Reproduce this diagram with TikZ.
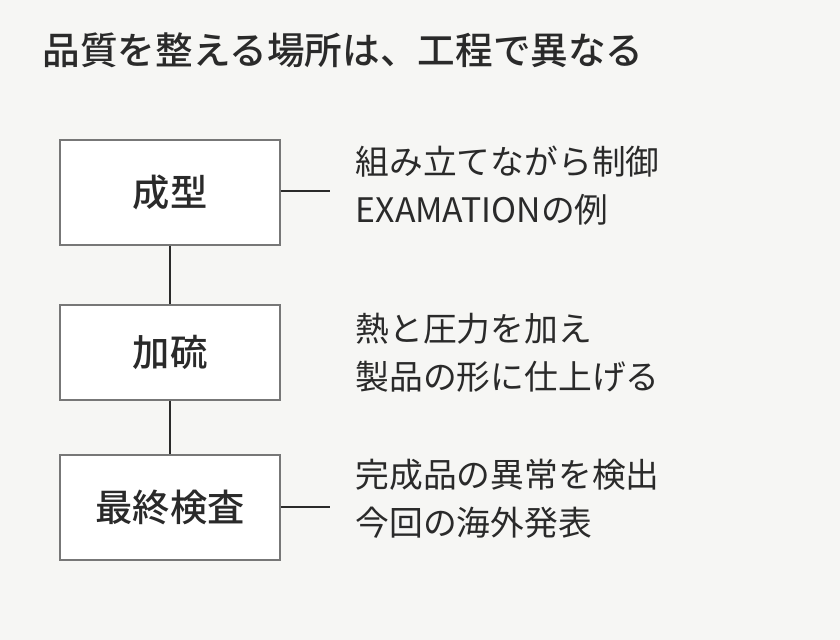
\documentclass[tikz,border=0pt]{standalone}
\usepackage{fontspec}
\setmainfont{Noto Sans CJK JP}
\newfontfamily\jpbold{Noto Sans CJK JP Medium}
\definecolor{bgc}{HTML}{F6F6F4}
\definecolor{txt}{HTML}{2A2A2A}
\definecolor{frm}{HTML}{777777}
\tikzset{
  step/.style = {draw=frm, fill=white, line width=0.4pt, minimum width=2.2cm, minimum height=#1, inner sep=0, text=txt, font=\jpbold\fontsize{10.6pt}{12pt}\selectfont},
  note/.style = {anchor=west, align=left, text=txt, font=\fontsize{9.6pt}{13.6pt}\selectfont, inner sep=0},
  link/.style = {draw=txt, line width=0.6pt}
}
\begin{document}
\begin{tikzpicture}[x=0.01cm,y=-0.01cm]
\useasboundingbox[fill=bgc](0,0)rectangle(840,640);
\node[anchor=west, text=txt, inner sep=0, font=\jpbold\fontsize{10.7pt}{12pt}\selectfont](T)at(42,50){品質を整える場所は、工程で異なる};
\node[step=1.05cm](S1)at(170,192.5){成型};
\node[step=0.95cm](S2)at(170,352.5){加硫};
\node[step=1.05cm](S3)at(170,507.5){最終検査};
\draw[link](S1)--(S2);
\draw[link](S2)--(S3);
\coordinate(E1)at(330,191);
\coordinate(E3)at(330,507);
\draw[link](S1.east|-E1)--(E1);
\draw[link](S3.east|-E3)--(E3);
\node[note](N1)at(355,186){組み立てながら制御\\EXAMATIONの例};
\node[note](N2)at(355,353){熱と圧力を加え\\製品の形に仕上げる};
\node[note](N3)at(355,499){完成品の異常を検出\\今回の海外発表};
\end{tikzpicture}
\end{document}
